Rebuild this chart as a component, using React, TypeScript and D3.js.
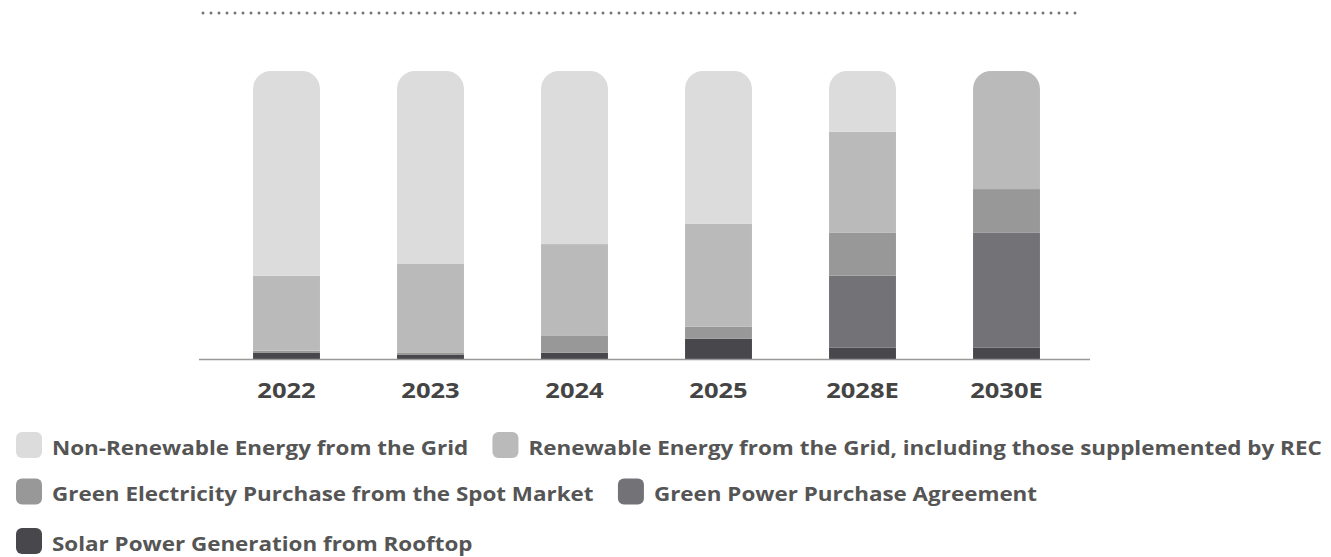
import React, { useMemo } from "react";
import * as d3 from "d3";

const years = ["2022", "2023", "2024", "2025", "2028E", "2030E"];
const seriesNames = [
  "Solar Power Generation from Rooftop",
  "Green Power Purchase Agreement",
  "Green Electricity Purchase from the Spot Market",
  "Renewable Energy from the Grid, including those supplemented by REC",
  "Non-Renewable Energy from the Grid",
];
const solar = [2.1, 1.4, 2.2, 7.0, 3.9, 3.9];
const ppa = [0, 0, 0, 0, 25.0, 39.9];
const spot = [0.8, 0.7, 5.8, 4.2, 14.9, 15.2];
const renewable = [26.0, 30.9, 31.9, 35.7, 35.1, 41.0];
const nonRenewable = [71.1, 67.0, 60.1, 53.1, 21.1, 0];
const colors = ["#48474c", "#737277", "#989898", "#bababa", "#dcdcdc"];
const legendOrder = [4, 3, 2, 1, 0];

const W = 1331;
const H = 557;
const LEGEND_STRETCH = 1.18;
const AXIS_STRETCH = 1.16;

export default function App() {
  const keys = ["solar", "ppa", "spot", "renewable", "nonRenewable"];
  const rows = years.map((y, i) => ({
    year: y,
    solar: solar[i],
    ppa: ppa[i],
    spot: spot[i],
    renewable: renewable[i],
    nonRenewable: nonRenewable[i],
  }));
  const stacked = d3.stack<any>().keys(keys)(rows);

  const x = d3
    .scaleBand<string>()
    .domain(years)
    .range([214.5, 1078.5])
    .paddingInner(0.535)
    .paddingOuter(0.2675);
  const y = d3.scaleLinear().domain([0, 100]).range([359, 71]);
  const radius = 18;

  const legendFont = "bold 19px 'Open Sans'";
  const legendItems = useMemo(() => {
    const canvas = document.createElement("canvas");
    const ctx = canvas.getContext("2d")!;
    ctx.font = legendFont;
    const rowYs = [445, 491.5, 541];
    let cx = 16;
    let row = 0;
    const items: any[] = [];
    legendOrder.forEach((si) => {
      const tw = ctx.measureText(seriesNames[si]).width * LEGEND_STRETCH;
      const itemW = 26 + 10 + tw;
      if (cx + itemW > W - 2 && cx > 16) {
        row += 1;
        cx = 16;
      }
      items.push({ si, x: cx, y: rowYs[Math.min(row, rowYs.length - 1)] });
      cx += itemW + 24;
    });
    return items;
  }, []);

  return (
    <svg
      width={W}
      height={H}
      style={{ position: "absolute", left: 0, top: 0, background: "#fff" }}
      fontFamily="'Open Sans', 'Noto Sans', sans-serif"
    >
      <line
        x1={203}
        x2={1083}
        y1={13}
        y2={13}
        stroke="#777"
        strokeWidth={3}
        strokeLinecap="round"
        strokeDasharray="0 8"
      />
      <defs>
        {years.map((yr, i) => (
          <clipPath id={`clip-${i}`} key={yr}>
            <rect
              x={x(yr)}
              y={y(100)}
              width={x.bandwidth()}
              height={y(0) - y(100) + radius}
              rx={radius}
              ry={radius}
            />
          </clipPath>
        ))}
      </defs>
      {years.map((yr, i) => (
        <g key={yr} clipPath={`url(#clip-${i})`}>
          {stacked.map((s, si) => {
            const d = s[i];
            const h = y(d[0]) - y(d[1]);
            if (h <= 0) return null;
            return (
              <rect
                key={si}
                x={x(yr)}
                y={y(d[1])}
                width={x.bandwidth()}
                height={h}
                fill={colors[si]}
              />
            );
          })}
        </g>
      ))}
      <line x1={199} x2={1090} y1={359.5} y2={359.5} stroke="#999" strokeWidth={1.6} />
      {years.map((yr) => {
        const cx = (x(yr) as number) + x.bandwidth() / 2;
        return (
          <text
            key={yr}
            transform={`translate(${cx},397.5) scale(${AXIS_STRETCH},1)`}
            textAnchor="middle"
            fontSize={22}
            fontWeight="bold"
            fill="#444"
          >
            {yr}
          </text>
        );
      })}
      {legendItems.map((it) => (
        <g key={it.si}>
          <rect
            x={it.x}
            y={it.y - 13}
            width={26}
            height={26}
            rx={6}
            ry={6}
            fill={colors[it.si]}
          />
          <text
            transform={`translate(${it.x + 36},${it.y + 9.5}) scale(${LEGEND_STRETCH},1)`}
            fontSize={19}
            fontWeight="bold"
            fill="#555"
          >
            {seriesNames[it.si]}
          </text>
        </g>
      ))}
    </svg>
  );
}
